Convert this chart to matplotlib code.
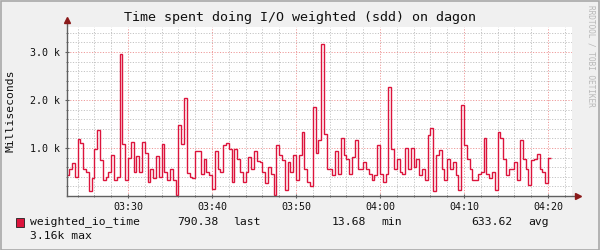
import numpy as np
import matplotlib
matplotlib.use("Agg")
import matplotlib.pyplot as plt
from matplotlib.patches import Rectangle
from matplotlib.ticker import FixedLocator, FuncFormatter

# ---- data -------------------------------------------------------------
title = "Time spent doing I/O weighted (sdd) on dagon"
ylabel = "Milliseconds"
series_name = "weighted_io_time"
start_minute = 3 * 60 + 22 + 40 / 60.0      # 03:22:40
step_seconds = 20
values = [
    430, 560, 680, 400, 1180, 1100, 570, 500, 100, 370,
    980, 1375, 760, 330, 400, 500, 850, 330, 400, 2950,
    1090, 330, 800, 1130, 500, 830, 500, 1130, 900, 300,
    570, 370, 830, 400, 1090, 500, 330, 570, 330, 14,
    1480, 1090, 2040, 480, 400, 370, 930, 930, 460, 780,
    500, 430, 150, 930, 560, 500, 1070, 1110, 970, 300,
    970, 780, 500, 300, 500, 820, 570, 930, 730, 700,
    500, 270, 610, 460, 30, 1070, 860, 750, 130, 700,
    500, 860, 330, 860, 1340, 560, 300, 200, 1860, 900,
    1170, 3160, 1300, 570, 560, 430, 930, 460, 1200, 850,
    780, 460, 810, 1170, 570, 560, 700, 570, 460, 330,
    430, 1070, 460, 300, 460, 2270, 970, 560, 780, 500,
    460, 1000, 560, 1000, 610, 780, 430, 560, 330, 1270,
    1420, 100, 850, 960, 560, 330, 780, 560, 700, 430,
    130, 1900, 1070, 780, 560, 330, 330, 460, 500, 1200,
    460, 370, 500, 130, 1340, 1200, 780, 430, 560, 570,
    700, 330, 1170, 780, 570, 230, 760, 780, 870, 560,
    500, 270, 790,
]
x_range = (3 * 60 + 22.73, 4 * 60 + 22.87)
y_range = (0, 3520)
y_major = [1000, 2000, 3000]
y_major_labels = ["1.0 k", "2.0 k", "3.0 k"]
x_major = [3 * 60 + 30, 3 * 60 + 40, 3 * 60 + 50, 4 * 60, 4 * 60 + 10, 4 * 60 + 20]
legend_last = "790.38"
legend_min = "13.68"
legend_avg = "633.62"
legend_max = "3.16k"

# ---- styles -----------------------------------------------------------
BG = "#f0f0f0"
LINE = "#dc143c"
MINOR = "#c4c4c4"
MAJOR = "#ee9a9a"
AXIS = "#606060"
ARROW = "#8b1a1a"
TXT = "#101010"
MONO = "DejaVu Sans Mono"

fig = plt.figure(figsize=(6, 2.5), dpi=100, facecolor=BG)
W, H = 600, 250
L, R, T, B = 67, 572, 27, 196
ax = fig.add_axes([L / W, 1 - B / H, (R - L) / W, (B - T) / H])
ax.set_facecolor("white")
ax.set_xlim(*x_range)
ax.set_ylim(*y_range)

# grid
minor_x = [m for m in np.arange(202, 264, 2) if x_range[0] < m < x_range[1]]
for m in minor_x:
    is_major = (m % 10 == 0)
    ax.axvline(m, color=MAJOR if is_major else MINOR, lw=0.7,
               ls=(0, (1.2, 1.6)), zorder=1)
minor_y = list(np.arange(200, 3520, 200))
for v in minor_y:
    is_major = (v % 1000 == 0)
    ax.axhline(v, color=MAJOR if is_major else MINOR, lw=0.7,
               ls=(0, (1.2, 1.6)), zorder=1)

# data
edges = start_minute + np.arange(len(values) + 1) * step_seconds / 60.0
ax.stairs(values, edges, baseline=None, color=LINE, lw=1.0, zorder=3)

for s in ax.spines.values():
    s.set_visible(False)

# axes lines with arrows
ax.plot([x_range[0], x_range[0]], [0, 3620], color=AXIS, lw=1.0,
        clip_on=False, zorder=4)
ax.plot([x_range[0], x_range[1] + 0.5], [0, 0], color=AXIS, lw=1.0,
        clip_on=False, zorder=4)
ax.plot([x_range[0]], [3660], marker="^", color=ARROW, ms=4, clip_on=False, zorder=5)
ax.plot([x_range[1] + 0.75], [0], marker=">", color=ARROW, ms=4, clip_on=False, zorder=5)

ax.yaxis.set_major_locator(FixedLocator(y_major))
ax.yaxis.set_minor_locator(FixedLocator(minor_y))
ax.set_yticklabels(y_major_labels, fontfamily=MONO, fontsize=7.2)
ax.xaxis.set_major_locator(FixedLocator(x_major))
ax.xaxis.set_minor_locator(FixedLocator(minor_x))
ax.xaxis.set_major_formatter(FuncFormatter(lambda m, p: f"{int(m)//60:02d}:{int(round(m))%60:02d}"))
for lab in ax.get_xticklabels():
    lab.set_fontfamily(MONO)
    lab.set_fontsize(7.2)
ax.tick_params(axis="both", which="major", length=2.5, width=0.8, color=AXIS,
               labelcolor=TXT, pad=4, direction="inout")
ax.tick_params(axis="both", which="minor", length=2, width=0.6, color=AXIS,
               direction="inout")
ax.tick_params(axis="x", which="major", pad=3)

# texts
fig.text(0.5, 1 - 18 / H, title, ha="center", va="center",
         fontfamily=MONO, fontsize=9.6, color=TXT)
fig.text(11 / W, 1 - 111 / H, ylabel, rotation=90, ha="center", va="center",
         fontfamily=MONO, fontsize=8.2, color=TXT)
fig.text(591 / W, 1 - 5 / H, "RRDTOOL / TOBI OETIKER", rotation=270,
         ha="center", va="top", fontfamily=MONO, fontsize=5.6, color="#b8b8b8")

# legend
fig.patches.append(Rectangle((16 / W, 1 - 227 / H), 8 / W, 9 / H,
                             transform=fig.transFigure, facecolor=LINE,
                             edgecolor="#202020", lw=0.6))
ly = 1 - 222 / H
fs = 8.2
fig.text(30 / W, ly, series_name, ha="left", va="center", fontfamily=MONO, fontsize=fs, color=TXT)
fig.text(218 / W, ly, legend_last, ha="right", va="center", fontfamily=MONO, fontsize=fs, color=TXT)
fig.text(233 / W, ly, "last", ha="left", va="center", fontfamily=MONO, fontsize=fs, color=TXT)
fig.text(366 / W, ly, legend_min, ha="right", va="center", fontfamily=MONO, fontsize=fs, color=TXT)
fig.text(381 / W, ly, "min", ha="left", va="center", fontfamily=MONO, fontsize=fs, color=TXT)
fig.text(513 / W, ly, legend_avg, ha="right", va="center", fontfamily=MONO, fontsize=fs, color=TXT)
fig.text(528 / W, ly, "avg", ha="left", va="center", fontfamily=MONO, fontsize=fs, color=TXT)
fig.text(30 / W, 1 - 236 / H, f"{legend_max} max", ha="left", va="center",
         fontfamily=MONO, fontsize=fs, color=TXT)

# frame
fig.patches.append(Rectangle((0.5 / W, 0.5 / H), 598.5 / W, 248.5 / H,
                             transform=fig.transFigure, fill=False,
                             edgecolor="#a8a8a8", lw=1.2))

fig.savefig("out.png", dpi=100, facecolor=BG)
